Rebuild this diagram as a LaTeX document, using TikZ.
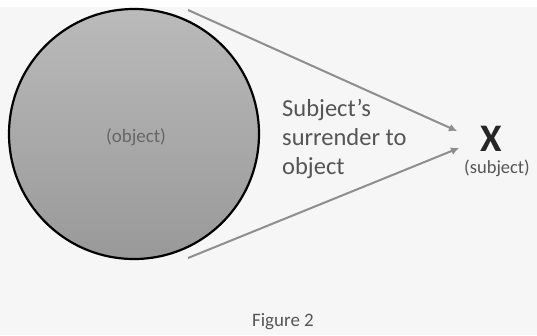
\documentclass[tikz,border=0pt]{standalone}
\usepackage{fontspec}
\setmainfont{Carlito}
\usetikzlibrary{arrows.meta}
\definecolor{paper}{HTML}{F6F6F6}
\definecolor{ink}{HTML}{555555}
\definecolor{linegray}{HTML}{8E8E8E}
\tikzset{
  pull/.style={draw=linegray, line width=2pt, -{Latex[length=8pt,width=8pt]}},
  txt/.style={text=ink, inner sep=0pt, font=\fontsize{#1}{#1}\selectfont},
}
\begin{document}
\begin{tikzpicture}[x=1pt,y=-1pt]
  \useasboundingbox (0,0) rectangle (537,335);
  \fill[white] (0,0) rectangle (537,335);
  \fill[paper] (0,7) rectangle (537,335);
  % the object
  \draw[line width=2.2pt, top color=black!27, bottom color=black!40] (134,134) circle (125);
  \node[txt=19, text=black!60] (obj) at (136,137) {(object)};
  % the subject
  \node[txt=39, text=black!85, font=\fontsize{39}{39}\selectfont\bfseries] (X) at (491,139) {X};
  \node[txt=18.5] (subj) at (497,168) {(subject)};
  \coordinate (upA) at (188,10);
  \coordinate (upB) at (188,258);
  \coordinate (tipA) at (457,131);
  \coordinate (tipB) at (459,148);
  \draw[pull] (upA) -- (tipA);
  \draw[pull] (upB) -- (tipB);
  \node[txt=24.5, align=left, anchor=west, font=\fontsize{24.5}{29}\selectfont] (surr) at (282,139)
    {Subject’s\\surrender to\\object};
  \node[txt=19] (fig) at (283,322) {Figure 2};
\end{tikzpicture}
\end{document}
